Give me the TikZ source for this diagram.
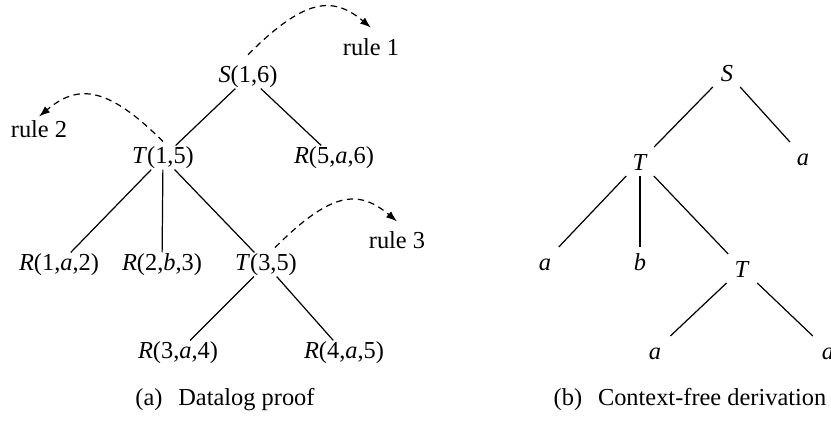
\documentclass[tikz,border=0pt]{standalone}
\usepackage{fontspec}
\setmainfont{Liberation Serif}
\usetikzlibrary{arrows.meta}
\definecolor{Ink}{HTML}{000000}
\tikzset{
  branch/.style={draw=Ink, line width=0.5pt},
  ruleflow/.style={-{Latex[length=4.5pt,width=3.2pt]}, draw=Ink, line width=0.5pt,
    dash pattern=on 2.6pt off 1.9pt},
  fact/.style={inner sep=0pt, anchor=base, text height=7pt, text depth=2.5pt,
    font=\fontsize{10}{12}\selectfont},
  sym/.style={inner sep=0pt, anchor=base, minimum width=14pt, minimum height=11.5pt,
    text height=7pt, text depth=0pt, font=\fontsize{10}{12}\selectfont},
  rulelabel/.style={inner sep=0pt, anchor=base, text height=7pt, text depth=0pt,
    font=\fontsize{10}{12}\selectfont},
  caption/.style={inner sep=0pt, anchor=base, font=\fontsize{10}{12}\selectfont},
}

\begin{document}
\begin{tikzpicture}[x=0.41pt, y=0.41pt]
  \useasboundingbox (0,0) rectangle (831,428);

  % (a) Datalog proof tree, placed by baseline.
  \node[fact] (S16) at (248,346) {\textit{S}(1,6)};
  \node[fact] (T15) at (163,265) {\textit{T}(1,5)};
  \node[fact] (R5a6) at (334,265) {\textit{R}(5,\textit{a},6)};
  \node[fact] (R1a2) at (59,158) {\textit{R}(1,\textit{a},2)};
  \node[fact] (R2b3) at (162,158) {\textit{R}(2,\textit{b},3)};
  \node[fact] (T35) at (266,158) {\textit{T}(3,5)};
  \node[fact] (R3a4) at (178,70) {\textit{R}(3,\textit{a},4)};
  \node[fact] (R4a5) at (344,70) {\textit{R}(4,\textit{a},5)};

  \node[rulelabel] (rule1) at (371,373) {rule 1};
  \node[rulelabel] (rule2) at (39,291) {rule 2};
  \node[rulelabel] (rule3) at (397,180) {rule 3};

  \draw[branch] (S16) -- (T15);
  \draw[branch] (S16) -- (R5a6);
  \draw[branch] (T15) -- (R1a2);
  \draw[branch] (T15) -- (R2b3);
  \draw[branch] (T15) -- (T35);
  \draw[branch] (T35) -- (R3a4);
  \draw[branch] (T35) -- (R4a5);

  % Rule annotations.
  \draw[ruleflow] ([yshift=4pt]S16.north) .. controls +(45:80) and +(140:50) .. ([yshift=4pt]rule1.north);
  \draw[ruleflow] ([yshift=1.6pt]T15.north) .. controls +(135:80) and +(40:50) .. ([yshift=1.2pt]rule2.north);
  \draw[ruleflow] ([shift={(3.7pt,2pt)}]T35.north) .. controls +(45:80) and +(140:50) .. ([yshift=3.7pt]rule3.north);

  % (b) Context-free derivation tree.
  \node[sym] (cfgS) at (727,347) {\textit{S}};
  \node[sym] (cfgT1) at (640,258) {\textit{T}};
  \node[sym] (cfgA1) at (803,263) {\textit{a}};
  \node[sym] (cfgA2) at (545,158) {\textit{a}};
  \node[sym] (cfgB) at (640,158) {\textit{b}};
  \node[sym] (cfgT2) at (742,151) {\textit{T}};
  \node[sym] (cfgA3) at (655,69) {\textit{a}};
  \node[sym] (cfgA4) at (828,69) {\textit{a}};

  \draw[branch] (cfgS) -- (cfgT1);
  \draw[branch] (cfgS) -- (cfgA1);
  \draw[branch] (cfgT1) -- (cfgA2);
  \draw[branch] (cfgT1) -- (cfgB);
  \draw[branch] (cfgT1) -- (cfgT2);
  \draw[branch] (cfgT2) -- (cfgA3);
  \draw[branch] (cfgT2) -- (cfgA4);

  % Captions.
  \node[caption] (capa) at (225,23) {(a)\hspace{0.65em}Datalog proof};
  \node[caption] (capb) at (690,23) {(b)\hspace{0.65em}Context-free derivation};
\end{tikzpicture}
\end{document}
